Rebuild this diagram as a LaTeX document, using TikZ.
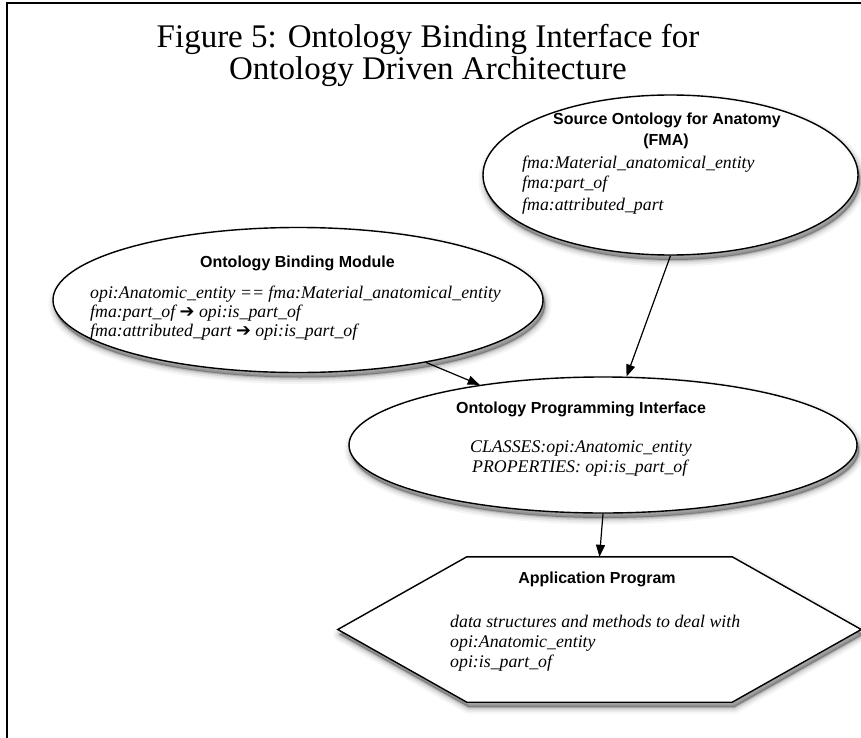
\documentclass[tikz,border=0pt]{standalone}
\usepackage{fontspec}
\setmainfont{Liberation Serif}
\setsansfont{Liberation Sans}
\newfontfamily\arrowfont{DejaVu Sans}
\usetikzlibrary{arrows.meta,shapes.geometric,shadows}

\tikzset{
  blurshadow/.style={
    general shadow={shadow xshift=2pt,shadow yshift=-5pt,fill=black,draw=black,opacity=.04,line width=13pt,line join=round},
    general shadow={shadow xshift=2pt,shadow yshift=-5pt,fill=black,draw=black,opacity=.06,line width=9pt,line join=round},
    general shadow={shadow xshift=2pt,shadow yshift=-5pt,fill=black,draw=black,opacity=.09,line width=5pt,line join=round},
    general shadow={shadow xshift=2pt,shadow yshift=-5pt,fill=black,draw=black,opacity=.14,line width=2pt,line join=round}},
  oval/.style={ellipse, draw=black, line width=1.4pt, fill=white, inner sep=0pt, blurshadow},
  head/.style={font=\sffamily\bfseries\fontsize{16}{19}\selectfont, inner sep=0pt, anchor=base},
  body/.style={font=\itshape\fontsize{17.8}{20}\selectfont, inner sep=0pt, anchor=base west},
  heading/.style={font=\fontsize{33}{38}\selectfont, inner sep=0pt, anchor=base},
  link/.style={line width=1.2pt, -{Triangle[length=12pt,width=9pt]}},
}

\begin{document}
\begin{tikzpicture}[x=1pt,y=-1pt]
\useasboundingbox (0,0) rectangle (861,738);
\fill[white] (0,0) rectangle (861,738);

% frame
\draw[line width=2pt] (7,738) -- (7,3) -- (861,3);

% heading
\node[heading] (title1) at (428,48) {Figure 5: Ontology Binding Interface for};
\node[heading] (title2) at (428,80) {Ontology Driven Architecture};

% shapes
\node[oval, minimum width=375pt, minimum height=160pt] (src) at (670.5,175) {};
\node[oval, minimum width=490pt, minimum height=145pt] (bind) at (298,300) {};
\node[oval, minimum width=508pt, minimum height=136pt] (opi) at (603,445) {};
\node[minimum width=523pt, minimum height=145pt, inner sep=0pt] (hex) at (599.5,629.5) {};
\draw[line width=1.4pt, fill=white, blurshadow, line join=miter]
  (hex.west) -- ([xshift=129pt]hex.north west) -- ([xshift=-129pt]hex.north east)
  -- (hex.east) -- ([xshift=-129pt]hex.south east) -- ([xshift=129pt]hex.south west) -- cycle;

% connectors
\draw[link] (src.south) -- (opi.71);
\draw[link] (bind.-26) -- (opi.154);
\draw[link] (opi.south) -- (hex.north);

% source ontology
\node[head] (srchead) at (667,125) {Source Ontology for Anatomy};
\node[head] (srcsub) at (666,146) {(FMA)};
\node[body] (srcl1) at (522,168) {fma:Material\_anatomical\_entity};
\node[body] (srcl2) at (522,189) {fma:part\_of};
\node[body] (srcl3) at (522,210) {fma:attributed\_part};

% binding module
\node[head] (bindhead) at (297.5,267) {Ontology Binding Module};
\node[body] (bindl1) at (90,298) {opi:Anatomic\_entity == fma:Material\_anatomical\_entity};
\node[body] (bindl2) at (90,317) {fma:part\_of {\arrowfont\upshape ➔} opi:is\_part\_of};
\node[body] (bindl3) at (90,336) {fma:attributed\_part {\arrowfont\upshape ➔} opi:is\_part\_of};

% programming interface
\node[head] (opihead) at (581,413) {Ontology Programming Interface};
\node[body] (opil1) at (470,452) {CLASSES:opi:Anatomic\_entity};
\node[body] (opil2) at (472,472) {PROPERTIES: opi:is\_part\_of};

% application program
\node[head] (apphead) at (597,583) {Application Program};
\node[body] (appl1) at (450,627) {data structures and methods to deal with};
\node[body] (appl2) at (450,647) {opi:Anatomic\_entity};
\node[body] (appl3) at (450,667) {opi:is\_part\_of};
\end{tikzpicture}
\end{document}
